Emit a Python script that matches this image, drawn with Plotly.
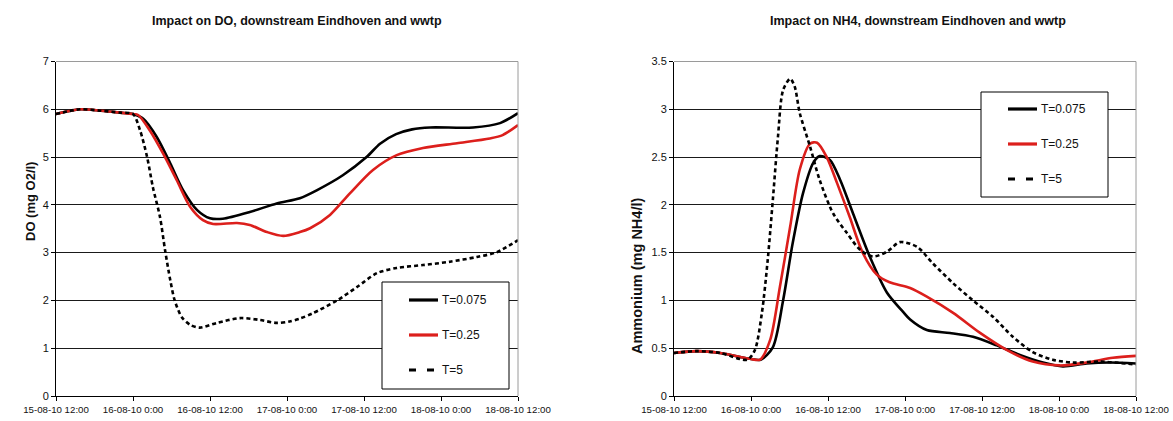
import plotly.graph_objects as go

W, H = 1173, 421

# ---------------- data ----------------
tick_hours = [0, 12, 24, 36, 48, 60, 72]
tick_labels = ["15-08-10 12:00", "16-08-10 0:00", "16-08-10 12:00", "17-08-10 0:00",
               "17-08-10 12:00", "18-08-10 0:00", "18-08-10 12:00"]
series_names = ["T=0.075", "T=0.25", "T=5"]

# DO (mg O2/l), hours after 15-08-10 12:00
do_a_h = [0, 3.7, 7, 10, 12, 13.6, 15.7, 17.8, 19.8, 22.0, 24.0, 26.0, 30.2, 34.4, 38.0,
          40.7, 44.7, 48.4, 50.5, 53.0, 55.5, 58.3, 65.0, 69.2, 72]
do_a_v = [5.9, 6.0, 5.97, 5.93, 5.9, 5.8, 5.42, 4.87, 4.31, 3.89, 3.72, 3.71, 3.85, 4.03, 4.14,
          4.31, 4.62, 5.0, 5.28, 5.48, 5.58, 5.62, 5.62, 5.71, 5.92]
do_b_h = [0, 3.7, 7, 10, 12, 12.8, 14.6, 16.7, 18.8, 20.9, 22.9, 24.5, 28.2, 30.2, 32.9, 35.4,
          38.0, 39.6, 42.7, 45.8, 49.4, 53.1, 57.2, 62.5, 67.6, 69.6, 72]
do_b_v = [5.9, 6.0, 5.97, 5.93, 5.9, 5.88, 5.56, 5.07, 4.52, 3.96, 3.68, 3.6, 3.62, 3.58, 3.43, 3.35,
          3.43, 3.51, 3.79, 4.24, 4.73, 5.04, 5.19, 5.29, 5.39, 5.46, 5.67]
do_c_h = [0, 3.7, 7, 10, 12, 13.1, 14.2, 15.1, 16.2, 17.0, 17.8, 18.5, 19.6, 20.9, 22.4, 25.1,
          28.7, 31.8, 34.4, 36.4, 38.0, 40.0, 43.8, 46.9, 50.0, 53.1, 57.2, 61.4, 65.6, 68.7, 72]
do_c_v = [5.9, 6.0, 5.97, 5.93, 5.9, 5.56, 5.0, 4.37, 3.75, 3.05, 2.43, 2.0, 1.65, 1.49, 1.43, 1.53,
          1.63, 1.59, 1.53, 1.56, 1.62, 1.73, 2.0, 2.28, 2.57, 2.68, 2.74, 2.81, 2.91, 3.01, 3.26]

# Ammonium (mg NH4/l)
nh_a_h = [0, 3.6, 7.2, 11.8, 13.5, 15.4, 17.0, 18.5, 20.1, 21.7, 22.7, 24.3, 25.9, 27.9, 30.5,
          33.2, 35.7, 36.8, 39.4, 43.0, 46.6, 50.3, 53.9, 57.5, 60.6, 64.3, 67.9, 72]
nh_a_v = [0.45, 0.47, 0.45, 0.39, 0.38, 0.51, 1.0, 1.6, 2.12, 2.44, 2.51, 2.47, 2.26, 1.91, 1.46,
          1.08, 0.88, 0.8, 0.69, 0.66, 0.62, 0.53, 0.43, 0.35, 0.31, 0.34, 0.35, 0.34]
nh_b_h = [0, 3.6, 7.2, 11.8, 13.4, 15.0, 16.5, 18.1, 19.6, 21.2, 22.3, 23.8, 25.4, 27.4, 29.4,
          31.6, 33.6, 36.8, 39.4, 43.5, 47.7, 51.9, 55.9, 60.1, 64.3, 68.4, 72]
nh_b_v = [0.45, 0.47, 0.45, 0.39, 0.38, 0.59, 1.14, 1.77, 2.37, 2.64, 2.65, 2.5, 2.23, 1.87, 1.5,
          1.27, 1.19, 1.13, 1.04, 0.87, 0.66, 0.48, 0.36, 0.32, 0.35, 0.4, 0.42]
nh_c_h = [0, 3.6, 7.2, 11.4, 12.6, 13.7, 14.6, 15.4, 16.2, 17.0, 18.1, 18.8, 19.6, 21.2, 22.7,
          24.8, 26.9, 29.0, 31.0, 33.2, 35.2, 37.9, 40.3, 43.5, 46.6, 49.7, 52.8, 55.9, 59.0,
          62.1, 66.4, 72]
nh_c_v = [0.45, 0.47, 0.45, 0.38, 0.48, 0.87, 1.42, 2.05, 2.71, 3.2, 3.32, 3.24, 2.96, 2.61, 2.26,
          1.91, 1.71, 1.53, 1.46, 1.51, 1.61, 1.56, 1.39, 1.18, 1.0, 0.83, 0.62, 0.46, 0.38,
          0.35, 0.36, 0.33]

# ---------------- styling ----------------
FONT = "Liberation Sans, Arial, sans-serif"
BLACK = "#000000"
RED = "#dc1f1c"
styles = [dict(color=BLACK, width=2.6, dash="solid"),
          dict(color=RED, width=2.6, dash="solid"),
          dict(color=BLACK, width=2.6, dash="4px,3px")]

fig = go.Figure()
left = [(do_a_h, do_a_v), (do_b_h, do_b_v), (do_c_h, do_c_v)]
right = [(nh_a_h, nh_a_v), (nh_b_h, nh_b_v), (nh_c_h, nh_c_v)]
for (h, v), st, nm in zip(left, styles, series_names):
    fig.add_trace(go.Scatter(x=h, y=v, mode="lines", name=nm, line=dict(shape="spline", smoothing=0.8, **st),
                             xaxis="x", yaxis="y", showlegend=False, hoverinfo="skip"))
for (h, v), st, nm in zip(right, styles, series_names):
    fig.add_trace(go.Scatter(x=h, y=v, mode="lines", name=nm, line=dict(shape="spline", smoothing=0.8, **st),
                             xaxis="x2", yaxis="y2", showlegend=False, hoverinfo="skip"))

ydom = [1 - 396 / H, 1 - 61.5 / H]
xcommon = dict(range=[0, 72], tickvals=tick_hours, ticktext=tick_labels, showgrid=False,
               showline=True, linecolor=BLACK, linewidth=1, ticks="outside", ticklen=4,
               tickcolor=BLACK, tickfont=dict(family=FONT, size=9.7, color="#111"),
               zeroline=False, automargin=False, fixedrange=True)
ycommon = dict(showgrid=True, gridcolor="#1a1a1a", gridwidth=1, showline=True, linecolor=BLACK,
               linewidth=1, ticks="outside", ticklen=4, tickcolor=BLACK,
               tickfont=dict(family=FONT, size=11, color="#111"), zeroline=False,
               automargin=False, fixedrange=True)

fig.update_layout(
    width=W, height=H, margin=dict(l=0, r=0, t=0, b=0, pad=0),
    paper_bgcolor="white", plot_bgcolor="white", template="none", showlegend=False,
    xaxis=dict(domain=[56 / W, 518 / W], anchor="y", **xcommon),
    yaxis=dict(domain=ydom, anchor="x", range=[0, 7], dtick=1, **ycommon),
    xaxis2=dict(domain=[674 / W, 1136 / W], anchor="y2", **xcommon),
    yaxis2=dict(domain=ydom, anchor="x2", range=[0, 3.5], dtick=0.5, **ycommon),
)

# grey plot-area border (top and right)
for xr, yr in [("x domain", "y domain"), ("x2 domain", "y2 domain")]:
    fig.add_shape(type="line", xref=xr, yref=yr, x0=0, x1=1, y0=1, y1=1,
                  line=dict(color="#9a9a9a", width=1), layer="above")
    fig.add_shape(type="line", xref=xr, yref=yr, x0=1, x1=1, y0=0, y1=1,
                  line=dict(color="#9a9a9a", width=1), layer="above")

def ann(text, x, y, size, bold=True, angle=0, xanchor="center"):
    fig.add_annotation(text=("<b>%s</b>" % text) if bold else text, x=x / W, y=1 - y / H,
                       xref="paper", yref="paper", showarrow=False, textangle=angle,
                       xanchor=xanchor, yanchor="middle",
                       font=dict(family=FONT, size=size, color="#111"))

ann("Impact on DO, downstream Eindhoven and wwtp", 297, 21, 12.5)
ann("Impact on NH4, downstream Eindhoven and wwtp", 918, 21, 12.5)
ann("DO (mg O2/l)", 30, 202, 13, angle=-90)
ann("Ammonium (mg NH4/l)", 637, 276, 14.5, angle=-90)

# legends (drawn boxes)
def legend(x0, x1, y0, y1, rows, lx0, lx1):
    fig.add_shape(type="rect", xref="paper", yref="paper", x0=x0 / W, x1=x1 / W,
                  y0=1 - y1 / H, y1=1 - y0 / H, line=dict(color=BLACK, width=1),
                  fillcolor="white", layer="above")
    for ry, st, nm in zip(rows, styles, series_names):
        d = "solid" if st["dash"] == "solid" else "7px,11px"
        fig.add_shape(type="line", xref="paper", yref="paper", x0=lx0 / W, x1=lx1 / W,
                      y0=1 - ry / H, y1=1 - ry / H,
                      line=dict(color=st["color"], width=3.2, dash=d), layer="above")
        ann(nm, lx1 + 1.5, ry, 12, bold=False, xanchor="left")

legend(382, 509, 282, 389, [300, 335, 370], 409, 438)
legend(981, 1108, 92, 197, [109, 144, 179], 1008, 1037)

fig.write_html("out.html", config=dict(displayModeBar=False, staticPlot=True),
               post_script="document.body.style.margin='0';document.body.style.overflow='hidden';")
